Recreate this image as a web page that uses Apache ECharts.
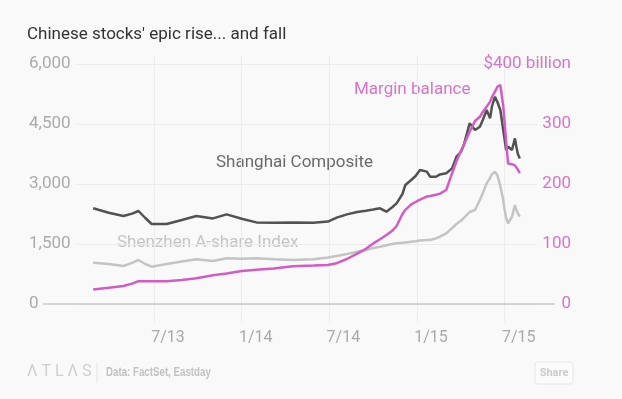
<!DOCTYPE html>
<html>
<head>
<meta charset="utf-8">
<script src="https://cdn.jsdelivr.net/npm/echarts@6/dist/echarts.min.js"></script>
<style>
  html, body { margin: 0; padding: 0; background: #f9f9f9; }
  #chart { width: 622px; height: 399px; }
</style>
</head>
<body>
<div id="chart"></div>
<script>
// observation dates (roughly every 2 weeks, weekly around the bubble)
var dates = [
  '2013-02-26','2013-03-28','2013-04-28','2013-05-16','2013-05-29','2013-06-13','2013-06-26',
  '2013-07-27','2013-08-28','2013-09-28','2013-11-02','2013-11-30','2014-01-01','2014-02-01',
  '2014-03-07','2014-04-16','2014-05-28','2014-06-28','2014-07-16','2014-08-07','2014-08-28',
  '2014-09-16','2014-10-01','2014-10-15','2014-10-28','2014-11-10','2014-11-19','2014-12-01',
  '2014-12-07','2014-12-19','2014-12-28','2015-01-07','2015-01-21','2015-01-28','2015-02-10',
  '2015-02-18','2015-03-01','2015-03-13','2015-03-22','2015-04-01','2015-04-07','2015-04-19',
  '2015-04-30','2015-05-10','2015-05-16','2015-05-24','2015-06-01','2015-06-05','2015-06-11',
  '2015-06-16','2015-06-22','2015-06-28','2015-07-01','2015-07-04','2015-07-08','2015-07-16',
  '2015-07-22','2015-07-25','2015-07-28','2015-08-02'
];
var shanghai = [
  2392,2280,2200,2260,2325,2150,2000,
  2000,2100,2200,2140,2240,2130,2040,
  2030,2040,2030,2060,2160,2240,2300,
  2330,2360,2392,2308,2420,2517,2750,
  2975,3100,3200,3350,3310,3183,3180,
  3240,3267,3390,3683,3800,3975,4517,
  4350,4433,4600,4850,4640,4950,5183,
  5050,4850,4350,4100,3850,3933,3850,
  4140,3933,3750,3640
];
var shenzhen = [
  1033,1000,950,1030,1100,1000,933,
  1000,1060,1117,1075,1142,1130,1142,
  1120,1100,1117,1160,1200,1250,1308,
  1350,1400,1433,1470,1500,1517,1530,
  1540,1558,1570,1590,1600,1600,1640,
  1683,1767,1900,2000,2080,2150,2300,
  2350,2600,2767,3017,3150,3250,3308,
  3220,2950,2600,2350,2150,2017,2183,
  2475,2350,2267,2183
];
// margin balance, $ billion
var margin = [
  24,27,30,34,38,38,38,
  38,40,43,48,51,55,57,
  59,63,64,65,68,75,84,
  92,101,108,115,122,130,150,
  157,166,170,174,179,180,182,
  184,190,218,238,255,265,287,
  305,312,320,329,337,345,354,
  362,365,330,301,270,234,233,
  231,229,224,218
];
var tickMonths = [6, 12, 18, 24, 30];
var tickLabels = ['7/13', '1/14', '7/14', '1/15', '7/15'];

// months since Jan 2013
function toMonth(s) {
  var p = s.split('-');
  return (+p[0] - 2013) * 12 + (+p[1] - 1) + (+p[2] - 1) / 30;
}
function pairs(vals) {
  return dates.map(function (d, i) { return [toMonth(d), vals[i]]; });
}

var monthPx = 14.61, originX = 66.4;   // pixel of Jan 2013 and width of a month
var plotL = 77, plotR = 537;
var pink = '#d35cc4', pinkText = '#d774c9';
var font = 'Roboto, "Noto Sans", sans-serif';

var chart = echarts.init(document.getElementById('chart'));
var option = {
  backgroundColor: '#f9f9f9',
  animation: false,
  title: {
    text: "Chinese stocks' epic rise... and fall",
    left: 22, top: 21,
    textStyle: { fontFamily: font, fontSize: 17, fontWeight: 'normal', color: '#333' }
  },
  grid: [
    { left: plotL, right: 622 - plotR, top: 64, bottom: 95 },
    { left: originX, width: 33 * monthPx, top: 56, bottom: 77 }
  ],
  xAxis: [
    {
      type: 'value', gridIndex: 0,
      min: (plotL - originX) / monthPx, max: (plotR - originX) / monthPx,
      axisLine: { show: false }, axisTick: { show: false },
      axisLabel: { show: false }, splitLine: { show: false }
    },
    {
      type: 'value', gridIndex: 1, min: 0, max: 33, interval: 6,
      axisLine: { show: false }, axisTick: { show: false },
      splitLine: { show: true, showMinLine: false, showMaxLine: false, lineStyle: { color: '#ececec' } },
      axisLabel: {
        margin: 8, fontFamily: font, fontSize: 16, color: '#aaa',
        padding: [0, 0, 0, 28],
        formatter: function (v) {
          var i = tickMonths.indexOf(v);
          return i < 0 ? '' : tickLabels[i];
        }
      }
    }
  ],
  yAxis: [
    {
      type: 'value', gridIndex: 0, min: 0, max: 6000, interval: 1500,
      axisLine: { show: false }, axisTick: { show: false },
      splitLine: { lineStyle: { color: '#ebebeb' } },
      axisLabel: { align: 'left', margin: 48, fontFamily: font, fontSize: 17, color: '#aaa' }
    },
    {
      type: 'value', gridIndex: 0, position: 'right', min: 0, max: 400, interval: 100,
      axisLine: { show: false }, axisTick: { show: false }, splitLine: { show: false },
      axisLabel: {
        align: 'right', margin: 34, fontFamily: font, fontSize: 17, color: pinkText,
        formatter: function (v) { return v === 400 ? '$400 billion' : v; }
      }
    },
    { type: 'value', gridIndex: 1, min: 0, max: 1, show: false }
  ],
  series: [
    {
      name: 'Shenzhen A-share Index', type: 'line', xAxisIndex: 0, yAxisIndex: 0,
      data: pairs(shenzhen), showSymbol: false,
      lineStyle: { color: '#c4c4c4', width: 2.5 }, z: 3
    },
    {
      name: 'Shanghai Composite', type: 'line', xAxisIndex: 0, yAxisIndex: 0,
      data: pairs(shanghai), showSymbol: false,
      lineStyle: { color: '#525252', width: 2.5 }, z: 4
    },
    {
      name: 'Margin balance', type: 'line', xAxisIndex: 0, yAxisIndex: 1,
      data: pairs(margin), showSymbol: false,
      lineStyle: { color: pink, width: 2.5 }, z: 5
    }
  ],
  graphic: [
    // zero baseline, longer than the grid
    { type: 'line', shape: { x1: 43, y1: 304, x2: 555, y2: 304 }, style: { stroke: '#c9c9c9', lineWidth: 1.5 }, z: 2 },
    { type: 'text', left: 216, top: 154, style: { text: 'Shanghai Composite', font: '17px ' + font, fill: '#6a6a6a' } },
    { type: 'text', left: 117, top: 234, style: { text: 'Shenzhen A-share Index', font: '17px ' + font, fill: '#c4c4c4' } },
    { type: 'text', left: 354, top: 81, style: { text: 'Margin balance', font: '17px ' + font, fill: pinkText } },
    // footer
    { type: 'text', left: 27, top: 364, style: { text: 'Λ T L Λ S', font: '16px ' + font, fill: '#cfcfcf' } },
    { type: 'line', shape: { x1: 97, y1: 363, x2: 97, y2: 383 }, style: { stroke: '#e2e2e2', lineWidth: 1 } },
    { type: 'text', x: 106, y: 373, scaleX: 0.81,
      style: { text: 'Data: FactSet, Eastday', font: 'bold 12px "Liberation Sans Narrow", sans-serif', fill: '#c2c2c2', verticalAlign: 'middle' } },
    { type: 'rect', shape: { x: 535, y: 362, width: 38, height: 22, r: 3 }, style: { fill: '#fbfbfb', stroke: '#e6e6e6', lineWidth: 1 } },
    { type: 'text', x: 554, y: 373, style: { text: 'Share', font: 'bold 11px ' + font, fill: '#cccccc', align: 'center', verticalAlign: 'middle' } }
  ]
};
chart.setOption(option);
</script>
</body>
</html>
